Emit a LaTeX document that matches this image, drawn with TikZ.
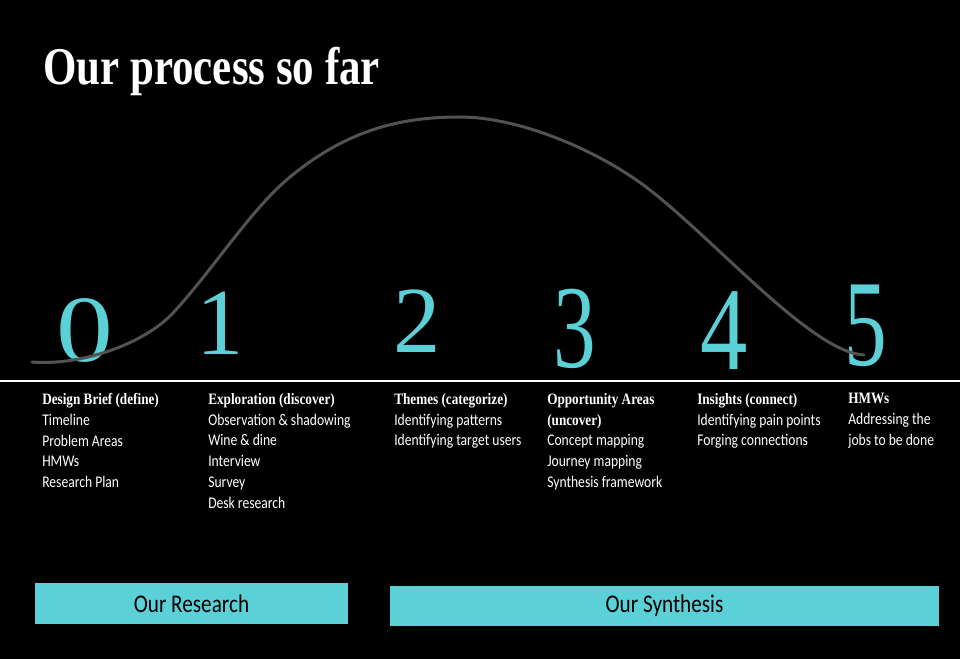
\documentclass[tikz,border=0pt]{standalone}
\usepackage{fontspec}
\usepackage{graphicx}
\setmainfont{Liberation Serif}
\newfontfamily\bodyfont{Carlito}
\definecolor{tealc}{RGB}{91,208,214}
\definecolor{curvec}{RGB}{82,82,82}
\newcommand\hd[1]{{\rmfamily\bfseries\fontsize{9.9}{13}\selectfont #1}}
\tikzset{
  digit/.style={inner sep=0pt, text=tealc, font=\rmfamily\fontsize{71}{71}\selectfont, transform shape},
  col/.style={anchor=north west, inner sep=0pt, align=left, text=white,
    font=\bodyfont\fontsize{10.2}{13}\selectfont, yscale=1.2, transform shape},
  bar/.style={fill=tealc, inner sep=0pt, text=black, font=\bodyfont\fontsize{15.9}{16}\selectfont}
}
\begin{document}
\begin{tikzpicture}[x=0.75pt,y=-0.75pt]
\fill[black] (0,0) rectangle (960,659);
\useasboundingbox (0,0) rectangle (960,659);

\node[anchor=base west, inner sep=0pt, text=white, font=\rmfamily\bfseries\fontsize{39.75}{40}\selectfont, xscale=0.81, transform shape] (title) at (43,85) {Our process so far};

% digits
\node[digit, xscale=1.2] (d0) at (85,330) {0};
\node[digit] (d1) at (220,323) {1};
\node[digit] (d2) at (417,321) {2};
\node[digit, xscale=0.9, yscale=1.25] (d3) at (575,329) {3};
\node[digit, yscale=1.25] (d4) at (724,331) {4};
\node[digit, xscale=0.9, yscale=1.3] (d5) at (866,326) {5};

% curve
\draw[curvec, line width=2.25pt, line cap=round]
  (32,362) .. controls (79,366) and (143,345) .. (173,313)
  .. controls (212,271) and (251,209) .. (290,177)
  .. controls (347,130) and (400,117) .. (460,117)
  .. controls (520,117) and (600,151) .. (650,190)
  .. controls (720,245) and (812,352) .. (864,355);

% baseline
\coordinate (lineL) at (0,381);
\coordinate (lineR) at (960,381);
\draw[white, line width=1.5pt] (lineL) -- (lineR);

% columns
\node[col] (c0) at (42,393) {\hd{Design Brief (define)}\\Timeline\\Problem Areas\\HMWs\\Research Plan};
\node[col] (c1) at (208,393) {\hd{Exploration (discover)}\\Observation \& shadowing\\Wine \& dine\\Interview\\Survey\\Desk research};
\node[col] (c2) at (394,393) {\hd{Themes (categorize)}\\Identifying patterns\\Identifying target users};
\node[col] (c3) at (547,393) {\hd{Opportunity Areas}\\\hd{(uncover)}\\Concept mapping\\Journey mapping\\Synthesis framework};
\node[col] (c4) at (697,393) {\hd{Insights (connect)}\\Identifying pain points\\Forging connections};
\node[col] (c5) at (848,393) {\hd{HMWs}\\Addressing the\\jobs to be done};

% bars
\node[bar, minimum width=234.75pt, minimum height=30.75pt] (research) at (191.5,603.5) {\scalebox{1}[1.2]{Our Research}};
\node[bar, minimum width=411.75pt, minimum height=30pt] (synthesis) at (664.5,606) {\scalebox{1}[1.2]{Our Synthesis}};
\end{tikzpicture}
\end{document}
